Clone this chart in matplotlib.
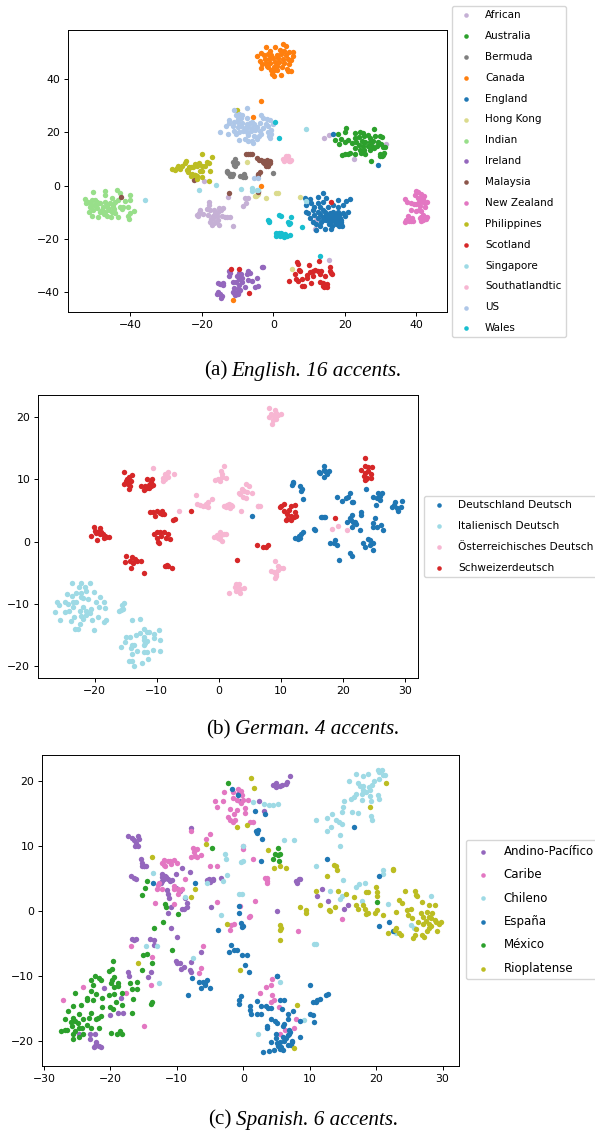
import matplotlib
matplotlib.use('Agg')
import matplotlib.pyplot as plt

plt.rcParams['font.size'] = 8

# (a) English
african = [(-17.9,-6),(-17.9,-7.2),(-20.5,-9.1),(-21.4,-11),(-21,-11.2),(-18.7,-8.9),(-17.7,-9.1),(-15.1,-8.2),(-14,-8.5),(-16.3,-10.4),
           (-18.2,-11),(-15.9,-11.2),(-13.6,-11.6),(-12.2,-11.9),(-15.5,-12.9),(-17.7,-13.5),(-17.3,-14.8),(-15.1,-14.8),(-11.2,-15),(-16.8,-12.2),
           (-19.8,-10.5),(-20.8,-10.3),(-16.6,-9),(-15.6,-10),(-14.6,-9.2),(-17,-11.5),(-16,-13.5),(-17.5,-12.4),(-16.5,-14),(-14.5,-11.5),(-13,-11.8),
           (-12.6,-4.1),(-7.9,-4.8),(-7,-4.8),(-8.4,-7.5),(-7.7,-6.6),(-19.4,1.9),(14.3,17.8),(15.5,18.9),(31.7,15.8),(22.7,10.1),(15.6,-28),(11.7,-13.5),(11.7,-16.3),(12,-13)]
australia = [(20.4,21.5),(28.2,21.1),(20.1,20),(18.2,19.2),(22.9,19.6),(24.3,20.2),(25.2,19.9),(17.3,17.1),(19.1,17.4),(21,17.1),
             (22.9,17.8),(24,18.2),(25.5,18.5),(26.5,19),(27,17.8),(28.5,18.7),(29.8,18.5),(30.5,18.3),(18.5,15.6),(20.1,16.2),
             (22,16),(23.2,16.5),(24.8,16.8),(25.8,16.2),(27,16.5),(28,16.8),(29.2,16.5),(30.2,15.8),(24,15.2),(25.2,14.8),
             (26.5,15),(27.6,15),(29,14.9),(30.8,14.5),(31.3,14.6),(22.8,14.2),(24.2,13.5),(25.5,13.2),(27,13.5),(28.2,14),
             (19.2,11.6),(20,11.8),(20.8,11.9),(21.6,12.2),(23,12),(24.5,12.2),(25.8,11.8),(30,11.9),(30.5,11),(30.8,11.4),(31,12.2),(30,11),(27.4,9.2)]
bermuda = [(-10.7,9.9),(-11.2,8.8),(-10.3,8.4),(-11,7.8),(-10.6,7.2),(-13.1,5.6),(-12.6,4.6),(-11.7,3.8),(-12.2,3.5),(-11.2,4.3),(-13,5),(-11.9,4.4),
           (-8.9,3.8),(-8.2,4.3),(-8,3.4),(-8.6,3.4),(-9.2,3.5),(0,4.8),(-4.4,-1.9)]
canada = [(2.8,53.1),(3.5,52.5),(0.5,51.9),(-2.1,51.9),(-1,50.5),(1.8,50.8),(3,50.5),(4.5,50),(5.5,50),(-3.3,49.6),(-4.7,48.8),(-2.5,49),
          (-1.5,49.5),(-0.5,49),(1,49.2),(2.2,49.5),(3.5,49),(5.6,48.8),(-3.7,46.8),(-2.2,47.5),(-1.2,47.5),(0,47.8),(1.3,48),(2.8,47.5),
          (4.2,47.5),(5,47),(-3.2,45.5),(-2,46),(-0.8,46.2),(0.5,46.5),(1.5,46.5),(3,46),(4.5,45.5),(-3.5,44.2),(-1.5,44.5),(0.2,44.5),
          (1,45),(2.5,44.5),(3.8,43.8),(5,43.2),(4.2,43),(1,43.5),(0,43),(-0.3,41.8),(0.2,41.2),(2.3,41.5),(-1.8,45),(-0.5,43.5),
          (-3.5,31.9),(-11.2,-42.9),(-3.3,0),(-5.6,25.9)]
england = [(13.8,-2.6),(8.9,-4.8),(10.3,-5),(12.6,-4.4),(14.8,-4.5),(18.2,-5.4),(21.5,-5.1),(20.4,-5.8),(9.3,-7.3),(10.7,-6.6),(12.6,-6.6),(14,-6),
           (15.2,-8.1),(16.8,-7.3),(18.2,-7.9),(19.6,-7.3),(21,-9.8),(9.8,-10.4),(9.3,-10),(11.2,-9.1),(12.6,-9.8),(14,-9.1),(15.9,-10.4),(16.8,-9.8),
           (18.2,-10),(19.6,-10.4),(10.3,-12.3),(12.6,-12),(14,-11.6),(14.9,-11),(16.3,-11.6),(17.3,-11.3),(18.7,-12),(20.1,-11.3),(13.5,-13.5),(14.9,-12.9),
           (16.1,-13.5),(17.7,-13.5),(19.1,-14.5),(18.7,-12.9),(12.1,-16.6),(14.5,-16.3),(16.3,-16.3),(11.2,-13.5),(11.5,-8),(13,-8),(14.5,-9.8),(15.5,-11),
           (16.5,-10.8),(17.5,-10.5),(18.5,-11),(15,-12),(16,-12.5),(17,-12),(18,-12.5),(19,-13),(15.5,-13),(17,-13),(18,-13.8),(19,-13.6),(14,-13),
           (15.5,-14.5),(16.5,-15),(17.5,-14.5),(18.5,-15),(19.2,-15),(13,-10.5),(11.5,-11),(12,-14.5),(13,-15),(16.8,19.2),(29.3,7.6)]
hong_kong = [(-7.5,8.8),(-4.7,-3.5),(-5.2,-3.7),(-4.2,-3.3),(-4.9,-3.9),(0.9,-2.6),(1.2,-2.7),(-2.1,-4.6),(7.5,-4.2),(5.3,-31.2)]
indian = [(-50.6,-2.5),(-47.2,-1.9),(-43.9,-1.6),(-47.1,-3.5),(-43,-2.9),(-40.2,-3.4),(-52.7,-5),(-50.9,-5.4),(-50,-5.4),(-49.3,-6),(-52.5,-6.6),(-51.4,-6.6),
          (-50.1,-7.3),(-48.5,-6.6),(-47.1,-6),(-45.3,-4.8),(-44.3,-6),(-45.8,-6.6),(-43.4,-5.4),(-41.6,-5.6),(-40,-5.4),(-51.4,-8.1),(-49.5,-8.5),(-47.6,-8.1),
          (-46.2,-8.5),(-44.8,-7.9),(-43,-8.1),(-42,-7.9),(-40.6,-7.9),(-51.5,-10),(-50.4,-9.1),(-48.6,-10),(-47.1,-9.8),(-45.3,-9.8),(-44.4,-10.4),(-42.5,-8.8),
          (-39,-9.4),(-40.1,-10.4),(-50.8,-11.4),(-49,-11.6),(-47.3,-10.6),(-45.5,-11.9),(-43.4,-11.9),(-40.7,-11.3),(-40.3,-12.4),(-46.7,-11.4),(-52,-6),(-51,-7.3),
          (-49.5,-7),(-46.5,-7.2),(-45,-7.4),(-44.5,-8.8),(-48,-9),(-46,-9.2)]
ireland = [(-15.5,-36.5),(-14.5,-36.8),(-12.5,-32),(-12,-32.9),(-12.4,-34),(-9.5,-32.8),(-9,-33),(-10.2,-33.8),(-9.2,-34.2),(-8.7,-34.8),(-9.7,-35.2),(-7,-32),
           (-6.6,-32.9),(-7.3,-33.3),(-3.1,-30.7),(-2.8,-30.5),(-4.7,-34.7),(-10.5,-36),(-11.3,-36.3),(-8.7,-36.3),(-7,-35.5),(-6,-35.8),(-15,-37),(-14,-36.4),
           (-14.2,-37.4),(-15.6,-40),(-15,-40.5),(-15.7,-40.8),(-14.5,-41.5),(-14.6,-42),(-11,-38.5),(-11.3,-39.8),(-10.5,-40.2),(-9.6,-39.5),(-10,-38.8),(-10.8,-41),
           (-9.8,-40.8),(-5,-38),(-4.4,-37.5),(-9.5,-37.2),(-8,-38),(-9.2,-39),(-10.2,-40.5),(-11,-40.3)]
malaysia = [(-7.7,11.8),(-7,11.9),(-6.5,11.9),(-6,12),(-4.5,10.5),(-4,9.8),(-3.5,9.5),(-3,9),(-2.5,9.3),(-2.7,8.5),(-2,8.3),(-1.5,8),
            (-1,8.5),(-0.8,9.2),(-1.8,9.5),(-2,7.5),(-1.4,7.2),(-4.2,4.5),(-3.8,5),(-4.3,4),(-42.6,-4.1),(-22.3,2.1),(-12.3,-2.9),(-4.3,-2.2)]
new_zealand = [(36.9,-5.1),(40.1,-1.9),(40.6,-2.5),(39.8,-3.5),(41.3,-3.1),(42.2,-3.8),(40.5,-4.8),(41.5,-4.6),(42,-5),(43.1,-6.3),(41.8,-6.2),(40.8,-6),
               (42.4,-6.5),(38.5,-6.5),(39.5,-6.8),(37.5,-6.2),(41,-7.5),(40,-7),(42.5,-8),(38.7,-9.3),(40.7,-9),(41.5,-9.5),(40,-9.6),(37.7,-11.5),
               (42,-11),(43,-11.6),(42.5,-11.9),(41.5,-11.6),(41,-12.3),(42.7,-12.5),(38.8,-12.2),(37.2,-13),(38,-13.3),(36.8,-13.6),(38.5,-13.4),(39.2,-13.2),
               (41.5,-13.4),(42,-13)]
philippines = [(-19.9,11.8),(-17.3,10.6),(-26,6.3),(-27.5,5.9),(-28.5,6.2),(-27,6.6),(-25.5,7.2),(-24.8,8.5),(-24.5,9.2),(-26.8,7.2),(-23.5,7),(-22.5,7.1),
               (-23,7),(-24,5.8),(-21.5,7.5),(-20.8,8.4),(-20,7.4),(-19.2,7.3),(-21.8,8),(-24.3,6),(-24,5.3),(-20.5,5.5),(-20,5.4),(-18,8.5),
               (-17.8,5.5),(-18.5,9),(-22.8,4.5),(-22,4.1),(-21.5,3.5),(-23,3.8),(-20,3.4),(-18,1.9),(-21.5,2.6),(-10.3,28.4),(-22,4)]
scotland = [(-11.8,-31.2),(-9.5,-31.2),(6.7,-28.8),(7,-29.5),(10,-29.6),(12.8,-28.2),(6,-33),(7.2,-31.5),(7.5,-32),(9.5,-33.5),(10.3,-32.5),(11,-32),
            (11.7,-31.7),(12.5,-32.2),(13.5,-32),(16,-32),(16.5,-33),(16.3,-32.8),(4.3,-35.6),(6.3,-35),(7,-35.6),(8,-35.2),(9.5,-34.5),(11,-33.8),
            (13,-33),(14.5,-33.8),(8,-37.5),(8.5,-37.5),(10.5,-36.5),(13,-36.3),(14,-36.4),(15,-37),(13.8,-37.8),(14.3,-38),(15,-38),(-6.7,-40.2),(16,-30.7),(16.2,-6)]
singapore = [(-36,-5.3),(-20.7,-1.5),(-16,0.3),(-9,-1.1),(-6,-1),(-4.5,-1.7),(-6,-2),(-4.3,-1.6),(9.3,21.1),(9.2,-5.7)]
southatlandtic = [(2.7,10),(3.5,11),(4.2,11.2),(3.8,10.2),(4.5,9.4),(4.8,9.1),(3,9.2),(2.9,9.8),(4,9.9),(4.9,9.6)]
us = [(-11,28.4),(-7.5,29),(-10.5,26.6),(-9.7,27),(-8.8,26.5),(-9,25.2),(-10,25),(-12.3,24.8),(-7.5,25.3),(-6,24),(-3.5,26.5),(-3,25.3),
      (-1.7,25),(-1,24.6),(-12.5,23.5),(-11,24),(-9.8,23.8),(-8.7,23.5),(-7.5,23.2),(-6.5,23.5),(-5.5,23),(-3.8,23.5),(-2,23),(-0.2,23),
      (-13.2,22.2),(-11.2,22.5),(-10,22),(-9,22.3),(-8,21.5),(-7.2,22),(-6,21.8),(-4.5,22),(-3,21.5),(-1.5,22.5),(-0.5,21),(-14.8,20.3),
      (-11,20.5),(-9.5,20.2),(-8.6,20.5),(-7.5,20),(-6.3,20.5),(-5.2,20.7),(-3.6,20.5),(-1.5,20),(-0.5,19.2),(-12.8,19.2),(-10.5,19.5),(-7,19),
      (-5.5,18.8),(-3.5,19.2),(-1.3,18.5),(-0.8,18),(-9.5,17.2),(-7.8,17.5),(-6,16.8),(-5.8,16),(-4.5,17.5),(-4,18.5),(-7,16.6),(-5.4,3),(-4.4,2.7)]
wales = [(0.4,24),(1.7,18),(13,-26.5),(-1.3,-13.2),(-1.1,-13.5),(-1.5,-12.7),(1.7,-11),(2.1,-11.2),(5.1,-11.6),(4.5,-14.4),(4.7,-14),(4.2,-13.8),
         (8,-15.4),(0.7,-17.8),(1.1,-18.2),(1.5,-17.6),(1.8,-18.3),(2.2,-17.8),(2.7,-18.4),(3.2,-18.7),(3.4,-18),(3.9,-18.9),(4.6,-18.6),(0.9,-18.8),(2,-19),(3,-19.3)]

names_a = ['African', 'Australia', 'Bermuda', 'Canada', 'England', 'Hong Kong', 'Indian', 'Ireland', 'Malaysia',
           'New Zealand', 'Philippines', 'Scotland', 'Singapore', 'Southatlandtic', 'US', 'Wales']
series_a = [african, australia, bermuda, canada, england, hong_kong, indian, ireland, malaysia,
            new_zealand, philippines, scotland, singapore, southatlandtic, us, wales]
colors_a = ['#c5b0d5', '#2ca02c', '#7f7f7f', '#ff7f0e', '#1f77b4', '#dbdb8d', '#98df8a', '#9467bd', '#8c564b',
            '#e377c2', '#bcbd22', '#d62728', '#9edae5', '#f7b6d2', '#aec7e8', '#17becf']

# (b) German
deutschland = [(11.9,9.6),(12,9.4),(11.8,9.1),(13.1,9),(13.4,8.4),(13.2,8.2),(13.6,6.8),(17,12.1),(16.9,11.5),(16.2,11.2),(17.1,11.3),(17.7,11.3),
               (17.5,10.9),(17,10.4),(16.3,11),(5.3,4.1),(16.6,4),(16.9,4),(17.2,4),(16.4,3.9),(15.3,2.1),(15.5,1.9),(12.3,0.6),(12.7,0.4),
               (13.1,0.5),(13.2,1.2),(13.6,1.6),(13,0.9),(19,7.1),(19.8,6.6),(20.5,7),(21.2,7.8),(20.8,7.1),(21.4,6.4),(21.7,6.3),(23.8,8.4),
               (24.9,7.2),(25.7,7.8),(26.3,7.8),(25.5,7),(26,6.7),(25.3,5.9),(25.9,7.4),(29.5,6.6),(28.4,6.4),(27.9,5.6),(28.2,5.9),(28.7,5.4),
               (29.3,5.6),(28.9,4.9),(23,4.8),(22.9,4.3),(21.4,4.3),(21.2,3.8),(20.6,3.2),(21.6,3.2),(22,3.2),(21.4,2.4),(22.1,2.8),(21.3,3.4),
               (22.8,1.9),(25.2,3.8),(24.9,3),(25.5,2.4),(26.1,2.7),(26.5,1.9),(24.8,2.4),(18.7,0.3),(17.9,-0.2),(19,-0.5),(18.6,-0.3),(23.3,-0.2),
               (24,0.4),(24.4,0.3),(24.9,-0.2),(23.6,-0.9),(24.4,-0.5),(24.8,-1.3),(21.2,-1.9),(21.4,-2.3),(19.4,-3)]
italienisch = [(-23.7,-6.7),(-22.1,-6.7),(-20.8,-6.6),(-22.5,-7.3),(-21.5,-7.3),(-24.4,-8.4),(-23.7,-8.8),(-22.9,-8.3),(-22.1,-8.2),(-21.3,-7.9),(-20.1,-8.1),(-22.2,-8.9),
               (-21.8,-9.1),(-21,-9.3),(-19.1,-9),(-26,-9.7),(-25.7,-10.2),(-24.8,-9.8),(-24.2,-10.1),(-23.5,-9.7),(-22.9,-9.7),(-23.4,-10.5),(-21.8,-10.5),(-19.7,-9.7),
               (-18.4,-9.7),(-19.3,-10.6),(-18.3,-10.7),(-26.3,-11.3),(-24.8,-11.3),(-24.1,-11.1),(-22.4,-11.1),(-21.4,-11.1),(-20.6,-10.9),(-20.7,-11.5),(-22.1,-12),(-21.4,-11.8),
               (-23.3,-12.2),(-23.8,-12.8),(-25.6,-12.7),(-21.9,-12.5),(-20.4,-12.6),(-19.4,-12.2),(-18.2,-12.6),(-18.4,-12.9),(-22.4,-13.2),(-23.1,-14.1),(-22.7,-14.1),(-20.1,-14.2),
               (-15.3,-9.9),(-15.6,-10.2),(-15.4,-10.9),(-16,-11.1),(-15.8,-11),(-14,-12.6),(-12.7,-12.5),(-12.1,-14.1),(-9.6,-14.2),(-15,-15.3),(-14.3,-15.4),(-13.3,-15),
               (-12.7,-14.7),(-11.6,-14.6),(-11.2,-14.6),(-10.4,-14.8),(-12,-15.4),(-12.1,-15.8),(-10.4,-15.6),(-9.4,-15.9),(-15.1,-16.1),(-13.7,-16.7),(-14,-16.7),(-11.9,-16.4),
               (-11.5,-16),(-12,-16.7),(-15.8,-17),(-14.2,-17.2),(-13.1,-17.6),(-12.1,-17.7),(-11.5,-17.8),(-10.6,-17.4),(-9.4,-17.6),(-14,-18.1),(-14.5,-19.2),(-14,-19.2),
               (-12.4,-19.6),(-11.4,-18.9),(-13.7,-20.1)]
oesterreichisch = [(8.1,21.5),(9.1,21.2),(8.5,20.5),(9.3,20.7),(8.9,20.2),(10,20.5),(9.6,20.4),(8.1,20.1),(9.2,19.8),(8.7,19.5),(8.6,18.9),(-10.5,11.9),
                   (-8.2,11.2),(-8.7,10.9),(-8.9,10.3),(-8.1,10.4),(-8.6,10),(-7.2,10.9),(-8.9,9.7),(0.8,12.1),(0.4,11.3),(0.6,10.9),(-0.1,10.1),(0.5,10.4),
                   (1.1,10.3),(-0.6,9.9),(0.2,9.7),(4.4,9.3),(4.9,9),(3.7,8.4),(4,8.1),(4.5,8),(3.3,7.9),(3.5,7.6),(5.3,7.9),(3.9,7.2),
                   (4.4,7),(-3.6,7.5),(-1.1,6.9),(-3.5,6.1),(-3,5.9),(-2.6,5.7),(-2.1,6),(-1.7,6.3),(-2,5.7),(-1.8,5.6),(0.9,5.8),(1.4,5.9),
                   (1.7,6.1),(2,5.9),(1.1,5.5),(1.9,5.4),(2.2,5.7),(6.3,5.8),(6.7,5.8),(6.4,5.7),(3.6,4.9),(-6.4,4.9),(-0.7,0.8),(-0.3,1.1),
                   (0.2,1.5),(0.4,1),(0.8,1.3),(1.1,1.2),(0.2,0.4),(0.5,0.1),(-0.1,0.5),(9.1,-3.2),(9.6,-4),(9.9,-4.3),(9.6,-4.5),(10.4,-4.2),
                   (8.5,-4.7),(8.9,-4.9),(9.2,-5.2),(9.3,-5.6),(9.1,-5.9),(2.8,-6.8),(3.3,-6.8),(3.3,-7.4),(2.6,-7.3),(4.1,-7.5),(3.4,-7.7),(2.8,-8),
                   (3.4,-8.2),(1.6,-8.3),(18.2,2.1),(19.2,2.5),(20.7,1.9)]
schweizer = [(-15.2,11.2),(-13.9,10.8),(-14.5,10.4),(-14.7,10),(-15,9.8),(-14.2,9.7),(-15.3,9.3),(-14.6,9.2),(-14.3,8.9),(-14.4,8.5),(-11.6,10.1),(-10.8,10.1),
             (-10.9,9.6),(-12.5,9),(-11.9,8.9),(-11.2,9.1),(-11.6,8.7),(-12,8.3),(-11.3,8.7),(-10.9,8.9),(-11.1,9.3),(-10.5,9.1),(-11,4.8),(-10.5,4.7),
             (-9.9,4.9),(-9.5,4.6),(-9.1,5),(-10.2,4.1),(-9.1,4.5),(-8.8,4.5),(-7.3,3.5),(-7,3.6),(-4.5,4.9),(-20.1,2.3),(-19.1,2.2),(-19.9,1.7),
             (-19.4,1.6),(-18.9,1.5),(-19.8,1.4),(-19.1,1.2),(-18.6,1.2),(-20.6,0.9),(-18.3,0.9),(-18.1,0.7),(-17.7,0.8),(-18.4,0.5),(-19.6,0.3),(-9.9,1.5),
             (-10.4,1.2),(-9.4,1.6),(-8.8,1.6),(-8.2,1.3),(-10,0.6),(-9.3,0.9),(-8.5,0.6),(-9.8,0),(-9.6,-0.2),(-7.9,0.4),(-14.9,-2.3),(-14,-2.5),
             (-13.5,-2.8),(-14.3,-3.1),(-13.8,-3.5),(-13.2,-3.2),(-12.5,-3.2),(-15.1,-3.3),(-14.2,-4.3),(-12.1,-5.1),(-8.6,-3.9),(-8.3,-3.7),(-8.5,-4),(-8.1,-4),
             (-7.5,-4.3),(3,-3),(6.1,-0.6),(7.2,-0.9),(7.6,-0.8),(7.9,-0.6),(10,5.7),(10.5,6.1),(11.7,5.7),(12.3,5.9),(9.8,5.5),(10.5,5),
             (11.3,5.1),(11,4.5),(12.3,4.7),(12.5,4.2),(11.6,4.2),(11,3.7),(10.9,3.4),(11.6,3.5),(12.1,4),(18.7,3.8),(23.6,13.5),(23.5,12.2),
             (24.1,12),(24.7,12),(23,11.6),(23.6,11.1),(24,11.4),(24.6,10.9),(23.4,10.6),(23.9,10.3),(24.5,10.2),(23.5,9.9),(23.8,10)]

names_b = ['Deutschland Deutsch', 'Italienisch Deutsch', 'Österreichisches Deutsch', 'Schweizerdeutsch']
series_b = [deutschland, italienisch, oesterreichisch, schweizer]
colors_b = ['#1f77b4', '#9edae5', '#f7b6d2', '#d62728']

# (c) Spanish
andino = [(7.1,20.7),(6.6,19.8),(6.4,19.5),(5.9,19.3),(5.5,19.2),(4.9,19.6),(4.5,19.4),(4.9,19.1),(-0.8,17.9),(-0.5,16.9),(2.4,16.9),(3.1,15.3),
          (-7.9,12.7),(-17.3,11.5),(-16.7,11.2),(-15.8,11.5),(-15.7,11),(-16.5,10.8),(-16.2,10.4),(-16.3,9.9),(-15.9,9.9),(-15.4,7.9),(-15.2,7.4),(-15.3,6.9),
          (-15,6.9),(-14.9,6.8),(-14.6,6.9),(-9.2,6.5),(-8,6),(-12.3,5.6),(-12.2,5.2),(-11.8,5.3),(-12.1,5),(-11.6,5.2),(-12,4.9),(-12.3,4.6),
          (-11.3,4.8),(-11,4.6),(-10.7,4.7),(-10.2,5.7),(-12.4,4.2),(-16.9,5.3),(-16.5,5.1),(-16.1,4.8),(-5.5,4.7),(-5.2,4.8),(-4.9,4.7),(-4.6,4.7),
          (-5,4.4),(-4.6,4.9),(-3.3,5.1),(-11.5,3.2),(-11.3,2.6),(-8.8,1.9),(-11.2,1.9),(-10.2,3.5),(-9.6,3.1),(-8.4,1.2),(-10.9,0.5),(-8.5,0.6),
          (-9,0.2),(-9.3,0.2),(-4.9,0.6),(-11.4,-0.3),(5,0),(8,4.6),(8.4,4.8),(8.1,4.3),(8.6,4.8),(11.8,3.3),(11.1,2.2),(12.7,1.5),
          (15.7,0.8),(15.2,0.3),(-14,-4.4),(-16.8,-4.4),(-16.5,-4.5),(-16.2,-4.4),(-13.5,-4.5),(-13.4,-5.3),(-10.9,-2.7),(-10,-4),(-10.1,-7.8),(-10,-8),
          (-9.6,-8.1),(-9,-8.6),(-8,-9.2),(-7.8,-9.4),(-9.4,-9),(-6.4,-6.4),(-7.9,-7.9),(-17.3,-9.5),(-17.2,-10),(-13.9,-9.4),(-14.3,-10.2),(-21,-11.9),
          (-18.4,-13.4),(-20,-16),(-18.9,-15.8),(-18.1,-15.8),(-23,-19),(-22.3,-19),(-23.1,-19.7),(-22.2,-20.2),(-22.2,-20.5),(-22.3,-20.8),(-21.7,-20.8),(-21.4,-20.9),
          (-22.5,-20.9),(-24.8,-19)]
caribe = [(-2.9,18.3),(-1.6,18.3),(-0.8,18.7),(-0.3,18.4),(-0.2,17.8),(-1.5,17.4),(-0.9,17),(0,17.1),(0.7,17.1),(-4.3,16.9),(-3,16.9),(-0.4,16.5),
          (-4,15.9),(-2,15.7),(-1,15.5),(0.2,15.8),(0.2,15),(-1.4,14.9),(-2.3,14.4),(-2,14),(-1.6,13.7),(-1.2,13.9),(1,13.7),(1.4,13.6),
          (-7.8,12.2),(-5,11.8),(-5.6,11),(-0.1,10),(0,9.5),(-7.6,9.7),(-7.4,9.1),(-6.9,9.5),(-6.3,8.6),(-7.2,8.4),(-7.9,8.2),(-7,8.3),
          (1.5,7.9),(-12,7.8),(-12.2,7.3),(-12,7),(-11.3,7.6),(-11,7.7),(-10.9,7.2),(-10.5,7.8),(-11.8,6.9),(-10,7.3),(-5,6.9),(-4,6.8),
          (3.5,5),(3.6,4.6),(3.6,4.3),(3.2,5),(-8.7,4.9),(-12.7,4.3),(-12.9,4),(-13,3.3),(-12.3,3.3),(-10.5,3.8),(-10.4,3.4),(-9.9,3.3),
          (-9.3,3.4),(-9.7,3),(-9.9,2.6),(-13.3,1.2),(-10.5,1.1),(1.7,1.5),(-1.4,-2),(-1.9,-2.2),(-2,-2.9),(-6,-5.4),(-6.4,-8.8),(-6.6,-9.6),
          (-16.9,-5.5),(-13.7,-7.2),(4.3,-10.5),(4.1,-11.4),(3.4,-11.8),(2.5,-12.6),(4.3,-12.9),(4.6,-13.8),(-17.7,-12.6),(-24.2,-11.7),(-27.1,-13.7),(-13.9,-11.4),
          (-15,-17.8),(-0.5,0.7),(8.3,-3.1),(1,-0.8),(0.8,-1),(14.9,-1.3),(7.9,-16.7),(7.7,-18),(5.6,-18.9),(6.3,-18.3),(-4,1.3),(4.1,-14),(5.3,-14.8)]
chileno = [(20.3,21.7),(20.9,21.7),(20.4,21.3),(21,20.9),(21.3,20.9),(17,21),(18.8,21.1),(18,20.7),(20.4,20.2),(19.7,20),(19.3,19.4),(18.9,19),
           (15.9,19.9),(17.3,19.7),(17.6,19.2),(18,19.2),(19.1,18.6),(18.5,18.2),(18,18.6),(17,18),(16.6,17.5),(16.2,17.2),(17.9,17.9),(19,17.6),
           (20.3,17.8),(20.4,17.2),(17.9,17),(19.2,16.9),(15.2,16.8),(15,15.9),(14.9,15.2),(16.3,15.2),(17.2,15),(1.4,16.7),(3.1,16.4),(3.8,16.2),
           (4.5,16.3),(5.2,16.4),(13.3,14.8),(12.6,14.2),(13.9,14),(14.4,13.6),(11,14),(13.2,12.8),(14.8,13.4),(19.2,14.5),(19.4,13.9),(12.6,12.2),
           (14.6,11.7),(14.5,9.9),(6.1,10.9),(7.7,10.9),(0,10),(-2.8,8.7),(-2.6,7.9),(-0.4,7.5),(0,7.6),(10.9,6.9),(21,6.2),(21,5.7),
           (15,4.7),(18.3,4.2),(17,3.7),(17.4,4.1),(13,3.1),(14.8,2.2),(14.5,1.8),(17.9,1.5),(21.8,1.1),(-0.6,2.5),(-0.2,2.6),(-8.7,2.1),
           (-5.4,4.3),(-3,4.5),(-2.5,5.5),(-13.6,5.8),(-3.3,-0.7),(28.3,2.2),(25.3,-2.2),(25.7,-2.7),(23,-3.4),(10.9,-5.1),(10.7,-5.1),(-13,-5.5),
           (-7.5,-7.3),(-12.7,-11.2),(5.5,-10.9),(9.2,-16.8),(2.2,-19),(-14.6,-5.4)]
espana = [(-1.7,18.7),(-0.8,17.8),(1.7,15.3),(3.2,14.8),(1.9,12.2),(2.2,12.4),(2.1,12),(2.8,11),(16.6,12.9),(12.6,8),(2.7,7.6),(20.4,5.4),
          (-7.2,4.3),(-13.6,4.3),(-0.7,0.7),(-0.6,-0.4),(-0.3,-1.9),(0,-2.3),(-3.8,-3),(-0.2,-2.5),(20.4,-2.3),(22,-1.7),(22.5,-3.1),(-1.9,-5.3),
          (-2.1,-6.3),(-1.4,-6.1),(-0.9,-6),(-0.2,-6.8),(0.5,-6.8),(0.2,-8.4),(0.9,-9.4),(5,-10.1),(5.1,-10),(-7.7,-10.4),(-6.7,-10.9),(-6.1,-11),
          (-5.7,-11.1),(-5.8,-11.5),(-5.4,-10.7),(-6.3,-11.9),(-5,-11.9),(-8.3,-13),(-0.4,-13.1),(-0.6,-13.8),(-0.6,-14.4),(2.1,-13.9),(5.5,-13.8),(6.1,-13.8),
          (10,-11.5),(12.4,-13),(12.8,-12.8),(11.6,-13.6),(11.1,-13.8),(10.9,-14),(10.5,-14.1),(1,-14.7),(2.6,-14.6),(3.4,-14.6),(3.7,-14.9),(4.1,-15),
          (5.8,-15.1),(1,-15.3),(1.2,-15.9),(2.1,-15.9),(2.7,-15.9),(7.5,-15.4),(6.7,-15.9),(10.1,-15.9),(10.5,-16.1),(10.6,-17.1),(4.1,-16.7),(4.8,-16.9),
          (5,-17.3),(6.7,-16.7),(8.6,-16.9),(3.6,-17.8),(3.6,-18),(6.2,-17.5),(6,-17.8),(4.9,-18.9),(6.9,-18.3),(7.1,-18.7),(6.9,-19),(8.6,-19.5),
          (6.8,-19.2),(6,-19.5),(6.1,-20),(4.9,-19.6),(4.2,-20.2),(5.5,-20.2),(6.5,-19.6),(5,-20.3),(5.7,-20.9),(7.4,-20.2),(6.7,-20.6),(5.2,-20.8),
          (5.5,-21.3),(6,-21.5),(4.6,-21.4),(3.9,-21.6),(3,-21.8),(7.2,-20.7),(7.4,-20)]
mexico = [(-19.6,-7.7),(-20.2,-9.3),(-19.7,-9),(-22.3,-10),(-22.9,-10.7),(-21.7,-10.4),(-21.4,-10.7),(-19.5,-10.2),(-19.8,-10.7),(-19.9,-11.2),(-22.6,-11.4),(-25.3,-12.6),
          (-22.9,-12.3),(-22.2,-12.8),(-21.2,-13.4),(-20.2,-13),(-19.5,-12.8),(-18.8,-11.2),(-18.8,-11.6),(-19.5,-11.8),(-18.3,-12.6),(-17.1,-11.2),(-16,-11),(-16.7,-12.1),
          (-16,-12),(-16.6,-13.6),(-13.8,-14),(-13.9,-14.3),(-15.3,-9.2),(-15.1,-6.8),(-14.5,-6.6),(-13.7,-8),(-23.6,-13.5),(-23.5,-13.8),(-22.6,-13.8),(-24.5,-14.5),
          (-25.7,-14.7),(-26.4,-15.5),(-21.2,-14.8),(-20,-14.8),(-19.6,-15.2),(-18.2,-14.5),(-19.1,-14.1),(-16.7,-15.7),(-24.8,-15.9),(-22.9,-15.7),(-26.9,-16.6),(-25.6,-16.5),
          (-24.1,-16.6),(-23.2,-16.5),(-22.2,-16.7),(-21.8,-16.5),(-21.4,-16.2),(-26,-17.2),(-25.4,-17),(-24.9,-17.3),(-25.8,-17.7),(-24.7,-18),(-24.3,-18),(-23.6,-17.6),
          (-22.9,-18),(-21.7,-18.1),(-27.5,-18.5),(-26.8,-18.4),(-26.5,-18.3),(-25.4,-18.5),(-25.7,-19),(-24.2,-18.9),(-24.7,-19.5),(-25.7,-19.7),(-19.9,-18.8),(-19,-18.9),
          (-18.6,-18.5),(-18.2,-19),(-2.3,19.7),(-4.7,9.7),(5.2,9.7),(4.8,8.7),(5.2,8.6),(5.6,8.7),(4.5,7.9),(5.4,7.6),(-14.5,4.6),(-14.8,3.5),
          (-15.3,2.4),(-11.8,1),(-11.6,0.5),(-9.9,-0.5),(-12.1,-1.7),(-13.5,-2.7),(-10.8,-6.1),(20.2,1.3)]
rioplatense = [(1.1,20.4),(1.6,18.8),(21.5,19.7),(19,15.9),(-1,12.9),(0.6,13.2),(3.7,9.4),(-5.6,10.3),(-13.7,8.2),(4.6,6.6),(5.6,6.8),(6.5,6.6),
               (13.7,7.1),(14,6.9),(14.1,6.3),(12.6,5.4),(22.5,6.4),(22.6,6.2),(-7.2,3.4),(-7.9,2.1),(11,3),(14.2,3),(15.5,2.5),(20,3.7),
               (18.5,2.9),(18.7,2.8),(20.1,2.9),(20.2,2.3),(16.6,2.1),(24.3,3),(25.8,3),(26,2.4),(26.2,2.2),(23.5,1.6),(23.9,1.2),(26.9,1.4),
               (28,0.8),(28.9,0.9),(8.6,0.5),(11.5,0.8),(13.8,0.5),(9.4,-0.4),(9.5,0.1),(17,0.8),(17.3,0.3),(18.3,0.3),(18,0.9),(18.4,-0.5),
               (18.8,-0.3),(12.9,0.1),(13,-0.1),(20.2,0.1),(19.8,-0.4),(21,-0.7),(23,-0.2),(24.8,-0.6),(24.7,0.1),(25.3,0.3),(26.8,-0.3),(27,-1),
               (25.4,-1.1),(27.7,-0.2),(28.4,-0.4),(28,-0.9),(28.8,-1.5),(28.3,-1.1),(29,-1.7),(29.7,-1.7),(27.5,-1.6),(26.3,-1.7),(27,-2),(27.9,-2),
               (28.3,-2.4),(28,-2.7),(27.7,-3.2),(26.9,-3.7),(29.1,-3.2),(29.4,-2),(22.9,-3),(23.4,-3.4),(21.8,-3.5),(23,-2.7),(26,-2.8),(25.9,-3.7),
               (27.2,-4),(25.5,-4.2),(23.7,-3.7),(5.5,-2.2),(5.7,-2.7),(5.6,-3),(5.5,-4.5),(-0.5,-9.2),(-15.8,-8),(8.1,-14.5),(7.7,-21.2),(-2.4,-2)]

names_c = ['Andino-Pacífico', 'Caribe', 'Chileno', 'España', 'México', 'Rioplatense']
series_c = [andino, caribe, chileno, espana, mexico, rioplatense]
colors_c = ['#9467bd', '#e377c2', '#9edae5', '#1f77b4', '#2ca02c', '#bcbd22']

W, H = 595, 1131


def caption(tag, rest, y):
    # upright tag + italic remainder, centred together
    fs = 15.2
    t1 = fig.text(0, 1 - y / H, tag, family='Liberation Serif', fontsize=fs, va='center')
    t2 = fig.text(0, 1 - y / H, rest, family='Liberation Serif', style='italic', fontsize=fs, va='center')
    r = fig.canvas.get_renderer()
    w1 = t1.get_window_extent(r).width
    w2 = t2.get_window_extent(r).width
    x0 = 303 - (w1 + 4 + w2) / 2
    t1.set_x(x0 / W)
    t2.set_x((x0 + w1 + 4) / W)


def draw_panel(box, series, names, colors, xlim, ylim, xticks, yticks, leg_xy, leg_fs, leg_space):
    l, t, r, b = box
    ax = fig.add_axes([l / W, 1 - b / H, (r - l) / W, (b - t) / H])
    for pts, name, c in zip(series, names, colors):
        xs = [p[0] for p in pts]
        ys = [p[1] for p in pts]
        ax.scatter(xs, ys, s=15, c=c, label=name, linewidths=0)
    ax.set_xlim(xlim)
    ax.set_ylim(ylim)
    ax.set_xticks(xticks)
    ax.set_yticks(yticks)
    ax.tick_params(labelsize=7.8, length=3, width=0.7, pad=2.5)
    for sp in ax.spines.values():
        sp.set_linewidth(0.7)
    ax.legend(loc='upper left', bbox_to_anchor=(leg_xy[0] / W, 1 - leg_xy[1] / H), bbox_transform=fig.transFigure,
              borderaxespad=0, markerscale=0.85, fontsize=leg_fs, labelspacing=leg_space, borderpad=0.4, handletextpad=0.8)


fig = plt.figure(figsize=(W / 100, H / 100), dpi=100)

draw_panel((68, 30, 447, 312), series_a, names_a, colors_a, (-57.5, 48.66), (-47.4, 58.4),
           [-40, -20, 0, 20, 40], [-40, -20, 0, 20, 40], (452, 6), 7.45, 1.05)
draw_panel((38, 395, 418, 678), series_b, names_b, colors_b, (-29.1, 32.1), (-21.96, 23.6),
           [-20, -10, 0, 10, 20, 30], [-20, -10, 0, 10, 20], (424, 496), 7.6, 1.04)
draw_panel((42, 755, 459, 1066), series_c, names_c, colors_c, (-30.3, 32.47), (-23.9, 23.95),
           [-30, -20, -10, 0, 10, 20, 30], [-20, -10, 0, 10, 20], (466, 840), 8.5, 0.88)

caption('(a)', 'English. 16 accents.', 371)
caption('(b)', 'German. 4 accents.', 730)
caption('(c)', 'Spanish. 6 accents.', 1120)

fig.savefig('out.png', dpi=100)
